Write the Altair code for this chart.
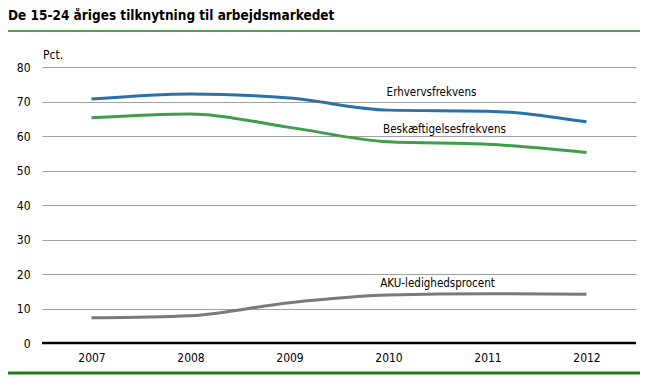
import altair as alt
import pandas as pd

years = ["2007", "2008", "2009", "2010", "2011", "2012"]
erhverv = [70.7, 72.2, 71.0, 67.5, 67.2, 64.1]
beskaeft = [65.3, 66.4, 62.5, 58.3, 57.6, 55.2]
aku = [7.3, 7.9, 11.7, 13.9, 14.3, 14.1]
series_names = ["Erhvervsfrekvens", "Beskæftigelsesfrekvens", "AKU-ledighedsprocent"]
colors = ["#2a72a5", "#3e9e4a", "#7a7a7a"]
title_text = "De 15-24 åriges tilknytning til arbejdsmarkedet"

rows = []
for name, vals in zip(series_names, [erhverv, beskaeft, aku]):
    for y, v in zip(years, vals):
        rows.append({"year": y, "value": v, "series": name})
df = pd.DataFrame(rows)

FONT = "DejaVu Sans Condensed, sans-serif"

x = alt.X("year:O", scale=alt.Scale(domain=years, paddingOuter=0.5),
          axis=alt.Axis(title=None, labelAngle=0, ticks=False, domain=False,
                        labelFontSize=12, labelPadding=9, labelColor="#000",
                        labelFont=FONT, grid=False))
y = alt.Y("value:Q", scale=alt.Scale(domain=[0, 80], nice=False),
          axis=alt.Axis(title=None, values=list(range(0, 81, 10)), ticks=False,
                        domain=False, labelFontSize=12, labelPadding=12,
                        labelColor="#000", labelFont=FONT, labelOverlap=False,
                        gridColor="#a0a0a0", gridWidth=1))

lines = alt.Chart(df).mark_line(strokeWidth=3, interpolate="monotone").encode(
    x=x, y=y,
    color=alt.Color("series:N", scale=alt.Scale(domain=series_names, range=colors), legend=None),
)

zero = alt.Chart(pd.DataFrame({"value": [0]})).mark_rule(color="#000", strokeWidth=2.5).encode(y=y)

lab_df = df[df["year"] == "2010"]
offsets = {"Erhvervsfrekvens": (43, -17), "Beskæftigelsesfrekvens": (56, -12),
           "AKU-ledighedsprocent": (49, -11)}
labels = []
for name in series_names:
    dx, dy = offsets[name]
    labels.append(
        alt.Chart(lab_df[lab_df["series"] == name]).mark_text(
            font=FONT, fontSize=11.5, color="#000", dx=dx, dy=dy, align="center", baseline="middle"
        ).encode(x=x, y=y, text="series:N")
    )

pct = alt.Chart(pd.DataFrame({"t": ["Pct."]})).mark_text(
    font=FONT, fontSize=12, color="#000", align="left", baseline="middle"
).encode(x=alt.value(1), y=alt.value(-12), text="t:N")

title = alt.Chart(pd.DataFrame({"t": [title_text]})).mark_text(
    font=FONT, fontSize=13.5, fontWeight="bold", color="#000", align="left", baseline="middle"
).encode(x=alt.value(-34), y=alt.value(-51), text="t:N")

top_rule = alt.Chart(pd.DataFrame({"a": [0]})).mark_rule(color="#1a7f1a", strokeWidth=1.5).encode(
    x=alt.value(-38), x2=alt.value(598), y=alt.value(-36))
bottom_rule = alt.Chart(pd.DataFrame({"a": [0]})).mark_rule(color="#1a7f1a", strokeWidth=3).encode(
    x=alt.value(-38), x2=alt.value(598), y=alt.value(306))

chart = alt.layer(lines, zero, *labels, pct, title, top_rule, bottom_rule).properties(
    width=594, height=276,
    autosize=alt.AutoSizeParams(type="none"),
    padding={"left": 34, "top": 59, "right": 20, "bottom": 40},
).configure_view(stroke=None)

chart.save("out.html", embed_options={"renderer": "svg", "actions": False})
